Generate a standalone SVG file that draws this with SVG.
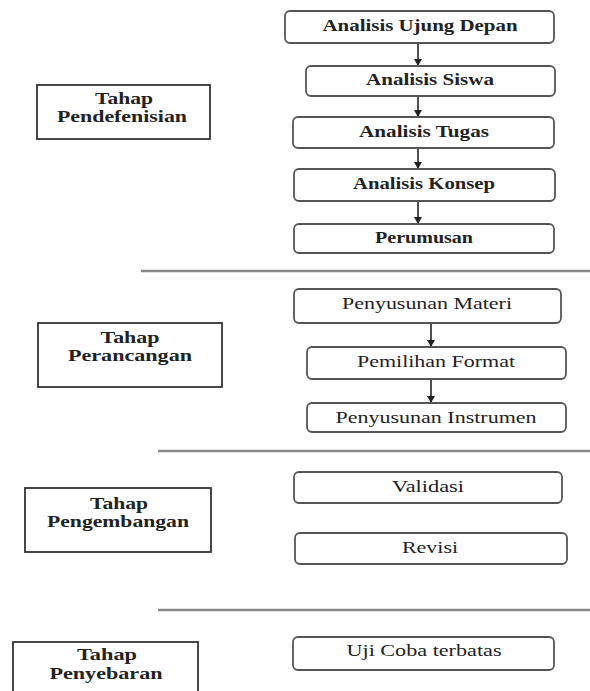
<svg xmlns="http://www.w3.org/2000/svg" width="590" height="691" viewBox="0 0 590 691">
<style>
.step{fill:#fff;stroke:#555;stroke-width:1.8}
.stage{fill:#fff;stroke:#333;stroke-width:1.8}
.sep{stroke:#888;stroke-width:2.4}
.conn{stroke:#222;stroke-width:1.6;fill:none}
.t{font-size:16px;fill:#222;text-anchor:middle}
.b{font-weight:bold}
</style>
<defs>
<marker id="ah" markerWidth="8" markerHeight="8" refX="7" refY="4" orient="auto" markerUnits="userSpaceOnUse" viewBox="0 0 8 8">
<path d="M0,0 L7,4 L0,8 Z" fill="#222"/>
</marker>
</defs>
<rect width="590" height="691" fill="#fff"/>
<g id="separators">
<line class="sep" x1="141" y1="271" x2="590" y2="271"/>
<line class="sep" x1="158" y1="451" x2="590" y2="451"/>
<line class="sep" x1="158" y1="610" x2="590" y2="610"/>
</g>
<g id="connectors">
<line class="conn" x1="418" y1="43" x2="418" y2="66" marker-end="url(#ah)"/>
<line class="conn" x1="418" y1="96" x2="418" y2="117" marker-end="url(#ah)"/>
<line class="conn" x1="418" y1="148" x2="418" y2="169" marker-end="url(#ah)"/>
<line class="conn" x1="418" y1="201" x2="418" y2="224" marker-end="url(#ah)"/>
<line class="conn" x1="431" y1="323" x2="431" y2="347" marker-end="url(#ah)"/>
<line class="conn" x1="431" y1="379" x2="431" y2="403" marker-end="url(#ah)"/>
</g>
<g font-family="'Liberation Serif', 'Times New Roman', 'DejaVu Serif', serif">
<g id="stage-pendefenisian">
<rect class="stage" x="37" y="85" width="173" height="54"/>
<text class="t b" x="124" y="104" textLength="58" lengthAdjust="spacingAndGlyphs">Tahap</text>
<text class="t b" x="122" y="122" textLength="130" lengthAdjust="spacingAndGlyphs">Pendefenisian</text>
</g>
<g id="stage-perancangan">
<rect class="stage" x="38" y="323" width="184" height="64"/>
<text class="t b" x="130" y="343" textLength="59" lengthAdjust="spacingAndGlyphs">Tahap</text>
<text class="t b" x="130" y="361" textLength="124" lengthAdjust="spacingAndGlyphs">Perancangan</text>
</g>
<g id="stage-pengembangan">
<rect class="stage" x="25" y="488" width="186" height="64"/>
<text class="t b" x="119" y="509" textLength="58" lengthAdjust="spacingAndGlyphs">Tahap</text>
<text class="t b" x="118" y="527" textLength="142" lengthAdjust="spacingAndGlyphs">Pengembangan</text>
</g>
<g id="stage-penyebaran">
<rect class="stage" x="13" y="642" width="185" height="60"/>
<text class="t b" x="107" y="660" textLength="60" lengthAdjust="spacingAndGlyphs">Tahap</text>
<text class="t b" x="106" y="679" textLength="113" lengthAdjust="spacingAndGlyphs">Penyebaran</text>
</g>
<g id="analisis-ujung-depan">
<rect class="step" x="285" y="11" width="269" height="32" rx="5"/>
<text class="t b" x="420" y="31" textLength="195" lengthAdjust="spacingAndGlyphs">Analisis Ujung Depan</text>
</g>
<g id="analisis-siswa">
<rect class="step" x="306" y="66" width="249" height="30" rx="5"/>
<text class="t b" x="430" y="85" textLength="128" lengthAdjust="spacingAndGlyphs">Analisis Siswa</text>
</g>
<g id="analisis-tugas">
<rect class="step" x="293" y="117" width="261" height="31" rx="5"/>
<text class="t b" x="424" y="137" textLength="130" lengthAdjust="spacingAndGlyphs">Analisis Tugas</text>
</g>
<g id="analisis-konsep">
<rect class="step" x="294" y="169" width="261" height="32" rx="5"/>
<text class="t b" x="424" y="189" textLength="142" lengthAdjust="spacingAndGlyphs">Analisis Konsep</text>
</g>
<g id="perumusan">
<rect class="step" x="294" y="224" width="260" height="29" rx="5"/>
<text class="t b" x="424" y="243" textLength="98" lengthAdjust="spacingAndGlyphs">Perumusan</text>
</g>
<g id="penyusunan-materi">
<rect class="step" x="294" y="289" width="267" height="34" rx="5"/>
<text class="t" x="427" y="309" textLength="170" lengthAdjust="spacingAndGlyphs">Penyusunan Materi</text>
</g>
<g id="pemilihan-format">
<rect class="step" x="307" y="347" width="259" height="32" rx="5"/>
<text class="t" x="436" y="367" textLength="158" lengthAdjust="spacingAndGlyphs">Pemilihan Format</text>
</g>
<g id="penyusunan-instrumen">
<rect class="step" x="307" y="403" width="259" height="29" rx="5"/>
<text class="t" x="436" y="423" textLength="201" lengthAdjust="spacingAndGlyphs">Penyusunan Instrumen</text>
</g>
<g id="validasi">
<rect class="step" x="294" y="472" width="268" height="31" rx="5"/>
<text class="t" x="428" y="492" textLength="72" lengthAdjust="spacingAndGlyphs">Validasi</text>
</g>
<g id="revisi">
<rect class="step" x="295" y="533" width="272" height="31" rx="5"/>
<text class="t" x="430" y="553" textLength="56" lengthAdjust="spacingAndGlyphs">Revisi</text>
</g>
<g id="uji-coba-terbatas">
<rect class="step" x="293" y="637" width="261" height="33" rx="5"/>
<text class="t" x="424" y="656" textLength="155" lengthAdjust="spacingAndGlyphs">Uji Coba terbatas</text>
</g>
</g>
</svg>
